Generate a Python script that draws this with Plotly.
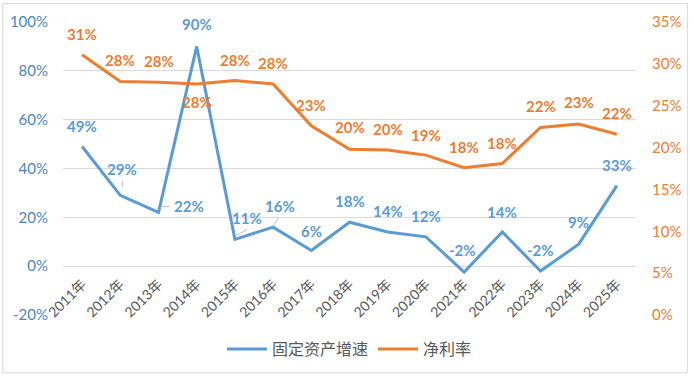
import plotly.graph_objects as go

years = ["2011年", "2012年", "2013年", "2014年", "2015年", "2016年", "2017年", "2018年",
         "2019年", "2020年", "2021年", "2022年", "2023年", "2024年", "2025年"]
asset_growth = [49, 29, 22, 90, 11, 16, 6.4, 18, 14, 12, -2.4, 14, -2, 9, 33]
net_margin = [31.1, 27.9, 27.8, 27.6, 28.0, 27.6, 22.6, 19.8, 19.7, 19.1, 17.6, 18.1, 22.4, 22.8, 21.6]
left_ticks = [-20, 0, 20, 40, 60, 80, 100]
left_tick_text = ["-20%", "0%", "20%", "40%", "60%", "80%", "100%"]
right_ticks = [0, 5, 10, 15, 20, 25, 30, 35]
right_tick_text = ["0%", "5%", "10%", "15%", "20%", "25%", "30%", "35%"]

# label offsets (pixels): (xshift, yshift)
blue_offsets = [(0, 21), (2, 26), (30, 6), (0, 22), (12, 21), (7, 21), (0, 20), (0, 21),
                (0, 21), (0, 21), (-2, 22), (0, 20), (0, 21), (0, 22), (0, 21)]
orange_offsets = [(0, 21), (0, 21), (0, 21), (0, -18), (0, 21), (0, 21), (0, 21), (0, 22),
                  (0, 21), (0, 20), (0, 21), (0, 20), (0, 21), (0, 22), (0, 21)]
# small leader lines (index of point, pixel offsets x0, y0, x1, y1 relative to the point)
leaders = [(1, 2, 8, 2, 15), (2, 2, 6, 11, 6), (4, 2, 4, 12, 10), (5, 0, 1, 5, 9)]

BLUE = "#5B9BD5"
ORANGE = "#ED7D31"
FONT = "Lato, 'Noto Sans CJK SC', sans-serif"

fig = go.Figure()
fig.add_trace(go.Scatter(x=years, y=asset_growth, mode="lines", name="固定资产增速",
                         line=dict(color=BLUE, width=3), yaxis="y"))
fig.add_trace(go.Scatter(x=years, y=net_margin, mode="lines", name="净利率",
                         line=dict(color=ORANGE, width=3), yaxis="y2"))

annotations = []
for yr, v, (dx, dy) in zip(years, asset_growth, blue_offsets):
    annotations.append(dict(x=yr, y=v, xref="x", yref="y", text=f"{round(v)}%",
                            showarrow=False, xshift=dx, yshift=dy,
                            font=dict(family=FONT, size=15, color=BLUE, weight="bold")))
for yr, v, (dx, dy) in zip(years, net_margin, orange_offsets):
    annotations.append(dict(x=yr, y=v, xref="x", yref="y2", text=f"{round(v)}%",
                            showarrow=False, xshift=dx, yshift=dy,
                            font=dict(family=FONT, size=15, color=ORANGE, weight="bold")))

shapes = []
for i, x0, y0, x1, y1 in leaders:
    shapes.append(dict(type="line", xref="x", yref="y", xsizemode="pixel", ysizemode="pixel",
                       xanchor=i, yanchor=asset_growth[i],
                       x0=x0, x1=x1, y0=y0, y1=y1, line=dict(color="#BFBFBF", width=1)))
shapes.append(dict(type="rect", xref="paper", yref="paper", x0=-0.105, x1=1.09, y0=-0.197,
                   y1=1.063, line=dict(color="#D9D9D9", width=1),
                   fillcolor="rgba(0,0,0,0)", layer="below"))

fig.update_layout(
    width=692, height=378,
    margin=dict(l=63, r=56, t=22, b=61),
    paper_bgcolor="white", plot_bgcolor="white",
    font=dict(family=FONT),
    showlegend=True,
    legend=dict(orientation="h", x=0.5, xanchor="center", y=-0.116,
                yanchor="middle", font=dict(family=FONT, size=16, color="#595959"),
                itemwidth=40),
    xaxis=dict(anchor="free", position=0.166, tickangle=-45, showgrid=False, showline=False,
               range=[-0.5, len(years) - 0.5], autorange=False,
               zeroline=False, automargin=False, ticks="", ticklabelstandoff=6,
               tickfont=dict(family=FONT, size=14, color="#595959")),
    yaxis=dict(range=[-20, 100], tickvals=left_ticks, ticktext=left_tick_text, showgrid=True,
               gridcolor="#D9D9D9", gridwidth=1, zeroline=False, showline=False,
               automargin=False, ticklabelstandoff=14,
               tickfont=dict(family=FONT, size=15, color="#4A86C5")),
    yaxis2=dict(range=[0, 35], tickvals=right_ticks, ticktext=right_tick_text, overlaying="y",
                side="right", showgrid=False, zeroline=False, showline=False,
                automargin=False, ticklabelstandoff=15,
                tickfont=dict(family=FONT, size=15, color=ORANGE)),
    annotations=annotations,
    shapes=shapes,
)

fig.write_html("out.html", config={"displayModeBar": False},
               post_script="document.body.style.margin='0';")
